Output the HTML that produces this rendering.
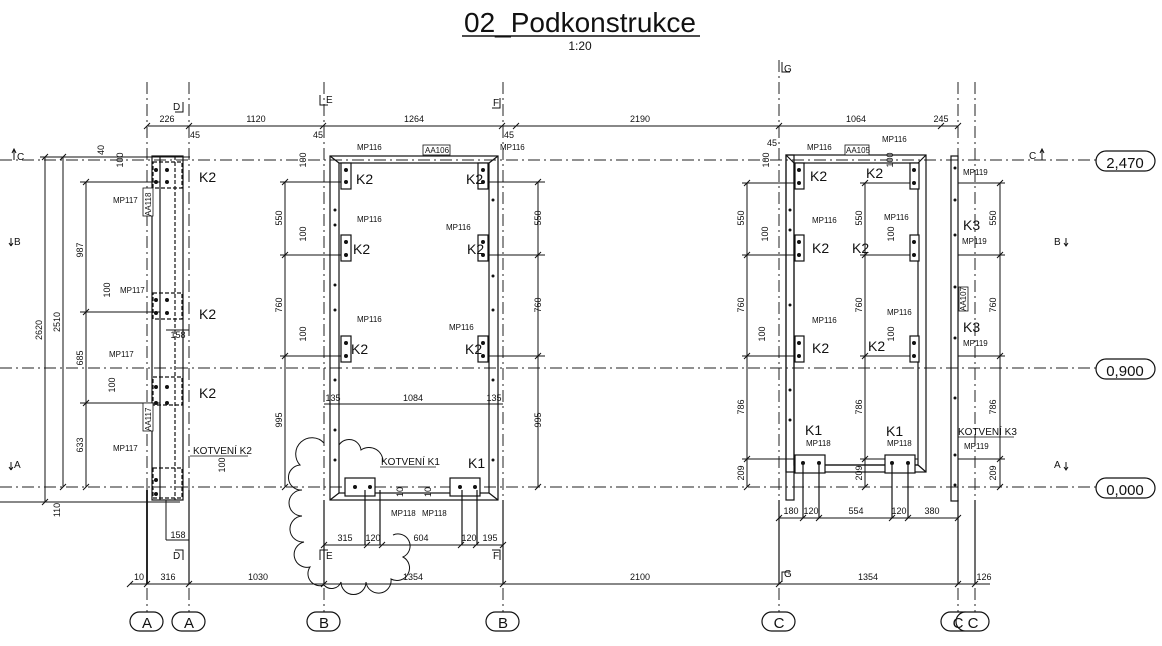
<!DOCTYPE html>
<html><head><meta charset="utf-8"><style>
html,body{margin:0;padding:0;background:#fff}
svg{display:block}
text{font-family:"Liberation Sans",sans-serif;fill:#111}
.d{font-size:9px}
.k{font-size:14px}
.m{font-size:8px}
</style></head><body>
<svg width="1162" height="646" viewBox="0 0 1162 646" xmlns="http://www.w3.org/2000/svg">
<rect width="1162" height="646" fill="#fff"/>
<!-- title -->
<text x="580" y="32" font-size="28" text-anchor="middle">02_Podkonstrukce</text>
<line x1="462" y1="36" x2="700" y2="36" stroke="#111" stroke-width="1.5"/>
<text x="580" y="50" font-size="12" text-anchor="middle">1:20</text>

<g stroke="#222" stroke-width="1" fill="none" stroke-dasharray="12,4,2,4">
<!-- horizontal levels -->
<line x1="0" y1="160" x2="1098" y2="160"/>
<line x1="0" y1="368" x2="1098" y2="368"/>
<line x1="0" y1="487" x2="1098" y2="487"/>
<!-- vertical grids -->
<line x1="147" y1="82" x2="147" y2="612"/>
<line x1="189" y1="82" x2="189" y2="612"/>
<line x1="324" y1="82" x2="324" y2="612"/>
<line x1="503" y1="82" x2="503" y2="612"/>
<line x1="779" y1="60" x2="779" y2="612"/>
<line x1="958" y1="82" x2="958" y2="612"/>
<line x1="975" y1="82" x2="975" y2="612"/>
</g>

<!-- level pills -->
<g stroke="#111" fill="#fff" stroke-width="1.2">
<rect x="1096" y="151" width="59" height="20" rx="10"/>
<rect x="1096" y="359" width="59" height="20" rx="10"/>
<rect x="1096" y="478" width="59" height="20" rx="10"/>
</g>
<text x="1125" y="168" font-size="15" text-anchor="middle">2,470</text>
<text x="1125" y="376" font-size="15" text-anchor="middle">0,900</text>
<text x="1125" y="495" font-size="15" text-anchor="middle">0,000</text>

<!-- grid circles -->
<g stroke="#111" fill="#fff" stroke-width="1.2">
<rect x="130" y="612" width="33" height="19" rx="9.5"/>
<rect x="172" y="612" width="33" height="19" rx="9.5"/>
<rect x="307" y="612" width="33" height="19" rx="9.5"/>
<rect x="486" y="612" width="33" height="19" rx="9.5"/>
<rect x="762" y="612" width="33" height="19" rx="9.5"/>
<rect x="941" y="612" width="33" height="19" rx="9.5"/>
<rect x="956" y="612" width="33" height="19" rx="9.5"/>
</g>
<g font-size="15" text-anchor="middle">
<text x="147" y="628">A</text><text x="189" y="628">A</text>
<text x="324" y="628">B</text><text x="503" y="628">B</text>
<text x="779" y="628">C</text><text x="958" y="628">C</text><text x="973" y="628">C</text>
</g>

<!-- dimension lines -->
<g stroke="#111" stroke-width="1" fill="none">
<line x1="148" y1="126" x2="958" y2="126"/>
<line x1="130" y1="584" x2="990" y2="584"/>
<line x1="324" y1="545" x2="503" y2="545"/>
<line x1="779" y1="518" x2="958" y2="518"/>
<line x1="45" y1="157" x2="45" y2="502"/>
<line x1="63" y1="157" x2="63" y2="487"/>
<line x1="86" y1="182" x2="86" y2="487"/>
<line x1="285" y1="182" x2="285" y2="487"/>
<line x1="538" y1="182" x2="538" y2="487"/>
<line x1="747" y1="183" x2="747" y2="487"/>
<line x1="865" y1="183" x2="865" y2="487"/>
<line x1="1000" y1="183" x2="1000" y2="487"/>
<line x1="324" y1="404" x2="503" y2="404"/>
<!-- extension lines -->
<line x1="40" y1="157" x2="190" y2="157"/>
<line x1="40" y1="502" x2="180" y2="502"/>
<line x1="80" y1="182" x2="160" y2="182"/>
<line x1="80" y1="312" x2="160" y2="312"/>
<line x1="80" y1="403" x2="160" y2="403"/>
<line x1="280" y1="182" x2="345" y2="182"/>
<line x1="280" y1="255" x2="345" y2="255"/>
<line x1="280" y1="356" x2="345" y2="356"/>
<line x1="483" y1="182" x2="545" y2="182"/>
<line x1="483" y1="255" x2="545" y2="255"/>
<line x1="483" y1="356" x2="545" y2="356"/>
<line x1="742" y1="183" x2="800" y2="183"/>
<line x1="742" y1="255" x2="800" y2="255"/>
<line x1="742" y1="356" x2="800" y2="356"/>
<line x1="742" y1="459" x2="800" y2="459"/>
<line x1="860" y1="183" x2="918" y2="183"/>
<line x1="860" y1="255" x2="918" y2="255"/>
<line x1="860" y1="356" x2="918" y2="356"/>
<line x1="860" y1="459" x2="918" y2="459"/>
<line x1="958" y1="183" x2="1005" y2="183"/>
<line x1="958" y1="255" x2="1005" y2="255"/>
<line x1="958" y1="356" x2="1005" y2="356"/>
<line x1="958" y1="459" x2="1005" y2="459"/>
<!-- solid column lines bottom -->
<line x1="147" y1="490" x2="147" y2="584" stroke-width="1.8"/>
<line x1="189" y1="490" x2="189" y2="584" stroke-width="1.2"/>
<line x1="324" y1="500" x2="324" y2="584" stroke-width="1.2"/>
<line x1="503" y1="500" x2="503" y2="584" stroke-width="1.2"/>
<line x1="779" y1="500" x2="779" y2="584" stroke-width="1.2"/>
<line x1="958" y1="500" x2="958" y2="584" stroke-width="1.2"/>
<line x1="975" y1="500" x2="975" y2="584" stroke-width="1.2"/>
<line x1="0" y1="502" x2="147" y2="502"/>
<line x1="166" y1="500" x2="166" y2="540"/>
<line x1="166" y1="540" x2="189" y2="540"/>
<line x1="166" y1="330" x2="189" y2="330"/>
</g>
<!-- ticks -->
<g stroke="#111" stroke-width="1">
<path d="M144 129l6-6M186 129l6-6M320 129l6-6M499 129l6-6M776 129l6-6M955 129l6-6M938 129l6-6M513 129l6-6"/>
<path d="M127 587l6-6M144 587l6-6M186 587l6-6M321 587l6-6M500 587l6-6M776 587l6-6M955 587l6-6M972 587l6-6"/>
<path d="M42 160l6-6M42 505l6-6M60 160l6-6M60 490l6-6M83 185l6-6M83 315l6-6M83 406l6-6M83 490l6-6"/>
<path d="M282 185l6-6M282 258l6-6M282 359l6-6M282 490l6-6M535 185l6-6M535 258l6-6M535 359l6-6M535 490l6-6"/>
<path d="M744 186l6-6M744 258l6-6M744 359l6-6M744 462l6-6M744 490l6-6M862 186l6-6M862 258l6-6M862 359l6-6M862 462l6-6M862 490l6-6M997 186l6-6M997 258l6-6M997 359l6-6M997 462l6-6M997 490l6-6"/>
<path d="M321 548l6-6M364 548l6-6M379 548l6-6M458 548l6-6M473 548l6-6M500 548l6-6"/>
<path d="M776 521l6-6M800 521l6-6M816 521l6-6M889 521l6-6M905 521l6-6M955 521l6-6"/>
</g>
<!-- dimension texts -->
<g class="d" text-anchor="middle">
<text x="167" y="122">226</text><text x="256" y="122">1120</text><text x="414" y="122">1264</text>
<text x="640" y="122">2190</text><text x="856" y="122">1064</text><text x="941" y="122">245</text>
<text x="195" y="138">45</text><text x="318" y="138">45</text><text x="509" y="138">45</text><text x="772" y="146">45</text>
<text x="139" y="580">10</text><text x="168" y="580">316</text><text x="258" y="580">1030</text>
<text x="413" y="580">1354</text><text x="640" y="580">2100</text><text x="868" y="580">1354</text><text x="984" y="580">126</text>
<text x="345" y="541">315</text><text x="373" y="541">120</text><text x="421" y="541">604</text><text x="469" y="541">120</text><text x="490" y="541">195</text>
<text x="791" y="514">180</text><text x="811" y="514">120</text><text x="856" y="514">554</text><text x="899" y="514">120</text><text x="932" y="514">380</text>
<text x="413" y="401">1084</text><text x="333" y="401">135</text><text x="494" y="401">135</text>
<text x="178" y="338">158</text><text x="178" y="538">158</text>
</g>
<g class="d" text-anchor="middle">
<text transform="translate(42,330) rotate(-90)">2620</text>
<text transform="translate(60,322) rotate(-90)">2510</text>
<text transform="translate(83,250) rotate(-90)">987</text>
<text transform="translate(83,358) rotate(-90)">685</text>
<text transform="translate(83,445) rotate(-90)">633</text>
<text transform="translate(60,510) rotate(-90)">110</text>
<text transform="translate(104,150) rotate(-90)">40</text>
<text transform="translate(282,218) rotate(-90)">550</text>
<text transform="translate(282,305) rotate(-90)">760</text>
<text transform="translate(282,420) rotate(-90)">995</text>
<text transform="translate(541,218) rotate(-90)">550</text>
<text transform="translate(541,305) rotate(-90)">760</text>
<text transform="translate(541,420) rotate(-90)">995</text>
<text transform="translate(744,218) rotate(-90)">550</text>
<text transform="translate(744,305) rotate(-90)">760</text>
<text transform="translate(744,407) rotate(-90)">786</text>
<text transform="translate(744,473) rotate(-90)">209</text>
<text transform="translate(862,218) rotate(-90)">550</text>
<text transform="translate(862,305) rotate(-90)">760</text>
<text transform="translate(862,407) rotate(-90)">786</text>
<text transform="translate(862,473) rotate(-90)">209</text>
<text transform="translate(996,218) rotate(-90)">550</text>
<text transform="translate(996,305) rotate(-90)">760</text>
<text transform="translate(996,407) rotate(-90)">786</text>
<text transform="translate(996,473) rotate(-90)">209</text>
<text transform="translate(123,160) rotate(-90)">100</text>
<text transform="translate(110,290) rotate(-90)">100</text>
<text transform="translate(115,385) rotate(-90)">100</text>
<text transform="translate(306,160) rotate(-90)">100</text>
<text transform="translate(306,234) rotate(-90)">100</text>
<text transform="translate(306,334) rotate(-90)">100</text>
<text transform="translate(769,160) rotate(-90)">100</text>
<text transform="translate(768,234) rotate(-90)">100</text>
<text transform="translate(765,334) rotate(-90)">100</text>
<text transform="translate(893,160) rotate(-90)">100</text>
<text transform="translate(894,234) rotate(-90)">100</text>
<text transform="translate(894,334) rotate(-90)">100</text>
<text transform="translate(225,465) rotate(-90)">100</text>
<text transform="translate(403,492) rotate(-90)">10</text>
<text transform="translate(431,492) rotate(-90)">10</text>
</g>

<!-- frames -->
<g stroke="#111" stroke-width="1.2" fill="none">
<!-- A column -->
<rect x="152" y="156" width="31" height="344"/>
<line x1="160" y1="156" x2="160" y2="500"/>
<line x1="175" y1="156" x2="175" y2="500" stroke-dasharray="4,2"/>
<rect x="153" y="162" width="29" height="26" stroke-dasharray="4,2"/>
<rect x="153" y="293" width="29" height="26" stroke-dasharray="4,2"/>
<rect x="153" y="377" width="29" height="28" stroke-dasharray="4,2"/>
<rect x="153" y="468" width="29" height="30" stroke-dasharray="4,2"/>
<!-- B frame -->
<rect x="330" y="156" width="168" height="344"/>
<rect x="339" y="163" width="150" height="330"/>
<path d="M330 156l9 7M498 156l-9 7M330 500l9-7M498 500l-9-7"/>
<!-- C frame -->
<rect x="786" y="155" width="140" height="317"/>
<rect x="794" y="163" width="124" height="302"/>
<path d="M786 155l8 8M926 155l-8 8M926 472l-8-7"/>
<rect x="786" y="155" width="8" height="345"/>
<rect x="951" y="156" width="7" height="345"/>
<line x1="794" y1="465" x2="918" y2="465"/>
</g>
<!-- K plates -->
<g stroke="#111" stroke-width="1.2" fill="#fff">
<rect x="341" y="163" width="10" height="26"/><rect x="341" y="235" width="10" height="26"/><rect x="341" y="336" width="10" height="26"/>
<rect x="478" y="163" width="10" height="26"/><rect x="478" y="235" width="10" height="26"/><rect x="478" y="336" width="10" height="26"/>
<rect x="795" y="163" width="9" height="26"/><rect x="795" y="235" width="9" height="26"/><rect x="795" y="336" width="9" height="26"/>
<rect x="910" y="163" width="9" height="26"/><rect x="910" y="235" width="9" height="26"/><rect x="910" y="336" width="9" height="26"/>
<rect x="795" y="455" width="30" height="18"/><rect x="885" y="455" width="30" height="18"/>
<rect x="345" y="478" width="30" height="18"/><rect x="450" y="478" width="30" height="18"/>
</g>
<!-- bolts -->
<g fill="#111">
<circle cx="156" cy="170" r="2"/><circle cx="156" cy="182" r="2"/><circle cx="167" cy="170" r="2"/><circle cx="167" cy="182" r="2"/>
<circle cx="156" cy="300" r="2"/><circle cx="156" cy="313" r="2"/><circle cx="167" cy="300" r="2"/><circle cx="167" cy="313" r="2"/>
<circle cx="156" cy="387" r="2"/><circle cx="156" cy="403" r="2"/><circle cx="167" cy="387" r="2"/><circle cx="167" cy="403" r="2"/>
<circle cx="156" cy="480" r="2"/><circle cx="156" cy="494" r="2"/>
<circle cx="346" cy="170" r="2"/><circle cx="346" cy="182" r="2"/><circle cx="346" cy="242" r="2"/><circle cx="346" cy="255" r="2"/><circle cx="346" cy="343" r="2"/><circle cx="346" cy="356" r="2"/>
<circle cx="483" cy="170" r="2"/><circle cx="483" cy="182" r="2"/><circle cx="483" cy="242" r="2"/><circle cx="483" cy="255" r="2"/><circle cx="483" cy="343" r="2"/><circle cx="483" cy="356" r="2"/>
<circle cx="799" cy="170" r="2"/><circle cx="799" cy="183" r="2"/><circle cx="799" cy="242" r="2"/><circle cx="799" cy="255" r="2"/><circle cx="799" cy="343" r="2"/><circle cx="799" cy="356" r="2"/>
<circle cx="914" cy="170" r="2"/><circle cx="914" cy="183" r="2"/><circle cx="914" cy="242" r="2"/><circle cx="914" cy="255" r="2"/><circle cx="914" cy="343" r="2"/><circle cx="914" cy="356" r="2"/>
<circle cx="803" cy="463" r="2"/><circle cx="819" cy="463" r="2"/><circle cx="892" cy="463" r="2"/><circle cx="908" cy="463" r="2"/>
<circle cx="355" cy="487" r="2"/><circle cx="370" cy="487" r="2"/><circle cx="460" cy="487" r="2"/><circle cx="475" cy="487" r="2"/>
<circle cx="335" cy="210" r="1.5"/><circle cx="335" cy="225" r="1.5"/><circle cx="335" cy="285" r="1.5"/><circle cx="335" cy="310" r="1.5"/><circle cx="335" cy="380" r="1.5"/><circle cx="335" cy="430" r="1.5"/><circle cx="335" cy="460" r="1.5"/>
<circle cx="493" cy="200" r="1.5"/><circle cx="493" cy="276" r="1.5"/><circle cx="493" cy="310" r="1.5"/><circle cx="493" cy="380" r="1.5"/><circle cx="493" cy="460" r="1.5"/>
<circle cx="790" cy="210" r="1.5"/><circle cx="790" cy="230" r="1.5"/><circle cx="790" cy="305" r="1.5"/><circle cx="790" cy="390" r="1.5"/><circle cx="790" cy="420" r="1.5"/>
<circle cx="955" cy="168" r="1.5"/><circle cx="955" cy="200" r="1.5"/><circle cx="955" cy="235" r="1.5"/><circle cx="955" cy="287" r="1.5"/><circle cx="955" cy="338" r="1.5"/><circle cx="955" cy="398" r="1.5"/><circle cx="955" cy="455" r="1.5"/><circle cx="955" cy="485" r="1.5"/>
</g>
<!-- anchors down -->
<g stroke="#111" stroke-width="1.2">
<line x1="803" y1="465" x2="803" y2="518"/><line x1="819" y1="465" x2="819" y2="518"/>
<line x1="892" y1="465" x2="892" y2="518"/><line x1="908" y1="465" x2="908" y2="518"/>
<line x1="365" y1="490" x2="365" y2="545"/><line x1="380" y1="490" x2="380" y2="545"/>
<line x1="462" y1="490" x2="462" y2="545"/><line x1="477" y1="490" x2="477" y2="545"/>
</g>
<!-- cloud -->
<path d="M324 585 a12 12 0 0 1 -14 -18 a12 12 0 0 1 -6 -25 a12 12 0 0 1 -2 -26 a12 12 0 0 1 0 -26 a12 12 0 0 1 -2 -25 a14 14 0 0 1 24 -22 M339 445 a12 12 0 0 1 22 5 a14 14 0 0 1 22 12 M324 585 a10 10 0 0 0 17 -3 a12 12 0 0 0 25 0 a12 12 0 0 0 25 -3 a12 12 0 0 0 12 -22 a10 10 0 0 0 -10 -22" stroke="#111" fill="none" stroke-width="1"/>
<!-- K labels -->
<g class="k">
<text x="199" y="182">K2</text><text x="199" y="319">K2</text><text x="199" y="398">K2</text>
<text x="356" y="184">K2</text><text x="353" y="254">K2</text><text x="351" y="354">K2</text>
<text x="466" y="184">K2</text><text x="467" y="254">K2</text><text x="465" y="354">K2</text>
<text x="810" y="181">K2</text><text x="812" y="253">K2</text><text x="812" y="353">K2</text>
<text x="866" y="178">K2</text><text x="852" y="253">K2</text><text x="868" y="351">K2</text>
<text x="963" y="230">K3</text><text x="963" y="332">K3</text>
<text x="805" y="435">K1</text><text x="886" y="436">K1</text><text x="468" y="468">K1</text>
</g>
<g font-size="10">
<text x="193" y="454">KOTVENÍ K2</text><text x="381" y="465">KOTVENÍ K1</text><text x="958" y="435">KOTVENÍ K3</text>
</g>
<g stroke="#111" stroke-width="0.8"><line x1="190" y1="456" x2="248" y2="456"/><line x1="380" y1="467" x2="436" y2="467"/><line x1="958" y1="437" x2="1014" y2="437"/></g>
<!-- tags -->
<g class="m">
<text x="113" y="203">MP117</text><text x="120" y="293">MP117</text><text x="109" y="357">MP117</text><text x="113" y="451">MP117</text>
<text x="357" y="150">MP116</text><text x="500" y="150">MP116</text><text x="357" y="222">MP116</text><text x="446" y="230">MP116</text><text x="357" y="322">MP116</text><text x="449" y="330">MP116</text>
<text x="807" y="150">MP116</text><text x="882" y="142">MP116</text><text x="812" y="223">MP116</text><text x="884" y="220">MP116</text><text x="812" y="323">MP116</text><text x="887" y="315">MP116</text>
<text x="806" y="446">MP118</text><text x="887" y="446">MP118</text><text x="391" y="516">MP118</text><text x="422" y="516">MP118</text>
<text x="963" y="175">MP119</text><text x="962" y="244">MP119</text><text x="963" y="346">MP119</text><text x="964" y="449">MP119</text>
</g>
<g stroke="#111" stroke-width="0.8" fill="#fff">
<rect x="423" y="145" width="27" height="10"/><rect x="845" y="145" width="24" height="10"/>
<rect x="143" y="188" width="10" height="28"/><rect x="143" y="403" width="10" height="28"/><rect x="959" y="287" width="9" height="24"/>
</g>
<g class="m">
<text x="425" y="153">AA106</text><text x="846" y="153">AA105</text>
<text transform="translate(151,216) rotate(-90)">AA118</text>
<text transform="translate(151,431) rotate(-90)">AA117</text>
<text transform="translate(966,311) rotate(-90)">AA107</text>
</g>
<!-- section markers -->
<g font-size="10" stroke="#111" stroke-width="1">
<path d="M14 160v-10M12 153l2-4 2 4M11 246v-8M11 246l-2-3M11 246l2-3M11 470v-8M11 470l-2-3M11 470l2-3" fill="none"/>
<path d="M1042 160v-10M1040 153l2-4 2 4M1066 246v-8M1064 243l2 3 2-3M1066 470v-8M1064 467l2 3 2-3" fill="none"/>
<path d="M183 102v10h-8M320 95v10h8M500 98v10h-8M782 62v10h8M183 560v-10h-8M320 560v-10h8M500 560v-10h-8M782 582v-10h8" fill="none"/>
</g>
<g font-size="10">
<text x="17" y="160">C</text><text x="14" y="245">B</text><text x="14" y="468">A</text>
<text x="1029" y="159">C</text><text x="1054" y="245">B</text><text x="1054" y="468">A</text>
<text x="173" y="110">D</text><text x="326" y="103">E</text><text x="493" y="106">F</text><text x="784" y="72">G</text>
<text x="173" y="559">D</text><text x="326" y="559">E</text><text x="493" y="559">F</text><text x="784" y="577">G</text>
</g>
</svg>
</body></html>
